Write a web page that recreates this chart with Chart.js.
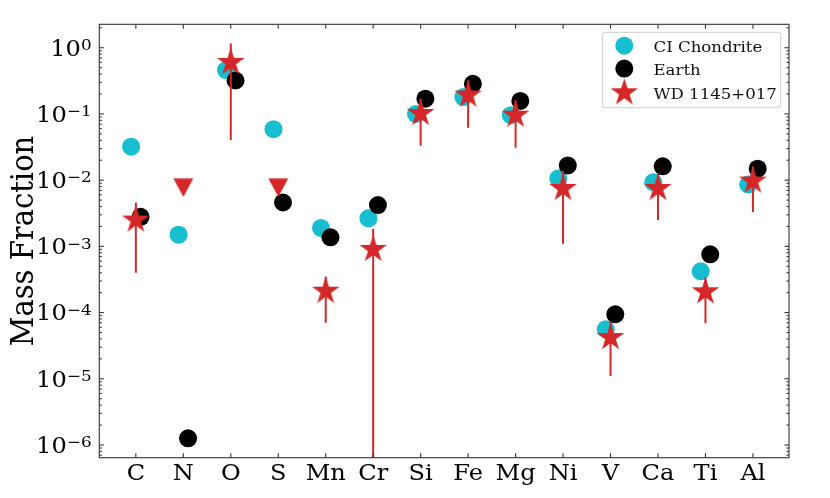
<!DOCTYPE html>
<html><head><meta charset="utf-8">
<script src="https://cdn.jsdelivr.net/npm/chart.js@4.4.0/dist/chart.umd.min.js"></script>
<style>html,body{margin:0;padding:0;background:#fff;overflow:hidden}</style>
</head><body>
<canvas id="c" width="830" height="498"></canvas>
<script>
// ---- data ----
const elements = ['C','N','O','S','Mn','Cr','Si','Fe','Mg','Ni','V','Ca','Ti','Al'];
const ciChondrite = [3.2e-2, 1.5e-3, 0.46, 5.9e-2, 1.9e-3, 2.65e-3, 0.10, 0.18, 0.096, 1.06e-2, 5.6e-5, 9.3e-3, 4.2e-4, 8.6e-3];
const earth       = [2.8e-3, 1.26e-6, 0.32, 4.6e-3, 1.37e-3, 4.2e-3, 0.17, 0.285, 0.157, 1.67e-2, 9.4e-5, 1.62e-2, 7.6e-4, 1.49e-2];
const wd1145      = [2.5e-3, null, 0.60, null, 2.1e-4, 9.0e-4, 0.102, 0.193, 0.096, 7.5e-3, 4.2e-5, 7.5e-3, 2.06e-4, 9.7e-3];
const wdError     = [2.1e-3, null, 0.56, null, 1.4e-4, 9.5e-4, 0.069, 0.131, 0.065, 6.4e-3, 3.1e-5, 5.0e-3, 1.37e-4, 6.4e-3];
const wdUpperLimit= [null, 7.7e-3, null, 7.7e-3, null, null, null, null, null, null, null, null, null, null];
const yDecades = [1e-6, 1e-5, 1e-4, 1e-3, 1e-2, 1e-1, 1e0];
const legendLabels = ['CI Chondrite', 'Earth', 'WD 1145+017'];
const yTitle = 'Mass Fraction';
const yMin = 6.43e-7, yMax = 2.26;

const FONT = "'DejaVu Serif', serif";
const RED = '#d62728', CYAN = '#17becf', BLACK = '#000000';
const OFF = 0.1;
const SX = 1.12; // horizontal text stretch

function makeStar(R, color) {
  const s = Math.ceil(R * 2 + 2);
  const c = document.createElement('canvas');
  c.width = s; c.height = s;
  const g = c.getContext('2d');
  g.fillStyle = color;
  g.beginPath();
  const cx = s / 2, cy = s / 2, r = R * 0.381966;
  for (let k = 0; k < 10; k++) {
    const a = -Math.PI / 2 + k * Math.PI / 5;
    const rr = k % 2 ? r : R;
    g.lineTo(cx + rr * Math.cos(a), cy + rr * Math.sin(a));
  }
  g.closePath(); g.fill();
  return c;
}
function makeTriDown(w, h, color) {
  const c = document.createElement('canvas');
  c.width = Math.ceil(w) + 2; c.height = Math.ceil(h) + 2;
  const g = c.getContext('2d');
  const cx = c.width / 2, cy = c.height / 2;
  g.fillStyle = color;
  g.beginPath();
  g.moveTo(cx - w / 2, cy - h / 2);
  g.lineTo(cx + w / 2, cy - h / 2);
  g.lineTo(cx, cy + h / 2);
  g.closePath(); g.fill();
  return c;
}
const starImg = makeStar(14.5, RED);
const triImg = makeTriDown(20, 18.3, RED);

function isDecade(v) { const e = Math.log10(v); return Math.abs(e - Math.round(e)) < 1e-9; }

const ciData = ciChondrite.map((v, i) => ({x: i - OFF, y: v}));
const earthData = earth.map((v, i) => ({x: i + OFF, y: v}));
const wdData = [];
wd1145.forEach((v, i) => { if (v !== null) wdData.push({x: i, y: v}); });
const ulData = [];
wdUpperLimit.forEach((v, i) => { if (v !== null) ulData.push({x: i, y: v}); });
const errData = [];
wd1145.forEach((v, i) => {
  if (v === null) return;
  errData.push({x: i, y: Math.max(v - wdError[i], 1e-9)});
  errData.push({x: i, y: v + wdError[i]});
  errData.push({x: i, y: null});
});

function sText(ctx, txt, x, y, size, align, baseline) {
  ctx.save();
  ctx.translate(x, y);
  ctx.scale(SX, 1);
  ctx.font = size + 'px ' + FONT;
  ctx.textAlign = align;
  ctx.textBaseline = baseline || 'alphabetic';
  ctx.fillText(txt, 0, 0);
  ctx.restore();
}
function sWidth(ctx, txt, size) {
  ctx.save(); ctx.font = size + 'px ' + FONT;
  const w = ctx.measureText(txt).width * SX; ctx.restore(); return w;
}

const framePlugin = {
  id: 'frame',
  afterDatasetsDraw(chart) {
    const {ctx, chartArea: a, scales: {x, y}} = chart;
    ctx.save();
    ctx.strokeStyle = '#333';
    ctx.lineWidth = 1.1;
    const line = (x1, y1, x2, y2) => { ctx.beginPath(); ctx.moveTo(x1, y1); ctx.lineTo(x2, y2); ctx.stroke(); };
    y.ticks.forEach(t => {
      const p = y.getPixelForValue(t.value);
      const L = isDecade(t.value) ? 4.5 : 2.5;
      line(a.left, p, a.left + L, p);
      line(a.right, p, a.right - L, p);
    });
    x.ticks.forEach(t => {
      const p = x.getPixelForValue(t.value);
      line(p, a.bottom, p, a.bottom - 4.5);
      line(p, a.top, p, a.top + 4.5);
    });
    ctx.strokeRect(a.left, a.top, a.right - a.left, a.bottom - a.top);

    // tick labels
    ctx.fillStyle = '#000';
    x.ticks.forEach(t => {
      const p = x.getPixelForValue(t.value);
      sText(ctx, elements[t.value], p, a.bottom + 22.3, 21.5, 'center');
    });
    const rightEdge = a.left - 7.5;
    yDecades.forEach(d => {
      const p = y.getPixelForValue(d);
      const e = Math.round(Math.log10(d));
      const supTxt = e < 0 ? '\u2212' + Math.abs(e) : String(e);
      const ws = sWidth(ctx, supTxt, 15);
      sText(ctx, supTxt, rightEdge, p + 2.2, 15, 'right');
      sText(ctx, '10', rightEdge - ws - 0.3, p + 7.8, 21.5, 'right');
    });

    // y title
    ctx.save();
    ctx.translate(33, (a.top + a.bottom) / 2);
    ctx.scale(SX, 1);
    ctx.rotate(-Math.PI / 2);
    ctx.font = '29px ' + FONT;
    ctx.textAlign = 'center';
    ctx.textBaseline = 'alphabetic';
    ctx.fillText(yTitle, 0, 0);
    ctx.restore();
    ctx.restore();
  },
  afterDraw(chart) {
    const ctx = chart.ctx;
    ctx.save();
    const bx = 602.3, by = 32.3, bw = 178.4, bh = 75.4, r = 3;
    ctx.beginPath();
    ctx.moveTo(bx + r, by);
    ctx.arcTo(bx + bw, by, bx + bw, by + bh, r);
    ctx.arcTo(bx + bw, by + bh, bx, by + bh, r);
    ctx.arcTo(bx, by + bh, bx, by, r);
    ctx.arcTo(bx, by, bx + bw, by, r);
    ctx.closePath();
    ctx.fillStyle = 'rgba(255,255,255,0.8)';
    ctx.fill();
    ctx.strokeStyle = '#cccccc';
    ctx.lineWidth = 1;
    ctx.stroke();
    const mx = 624.3;
    const rows = [45.7, 68.6, 92.8];
    const baselines = [52, 75.3, 99.3];
    ctx.fillStyle = CYAN; ctx.beginPath(); ctx.arc(mx, rows[0], 9, 0, Math.PI * 2); ctx.fill();
    ctx.fillStyle = BLACK; ctx.beginPath(); ctx.arc(mx, rows[1], 9, 0, Math.PI * 2); ctx.fill();
    ctx.drawImage(starImg, mx - starImg.width / 2, rows[2] - starImg.height / 2);
    ctx.fillStyle = '#111';
    legendLabels.forEach((t, k) => sText(ctx, t, 653.5, baselines[k], 14.8, 'left'));
    ctx.restore();
  }
};

new Chart(document.getElementById('c'), {
  type: 'scatter',
  data: {
    datasets: [
      { label: legendLabels[2], data: wdData, order: 0, pointStyle: starImg, pointRadius: 14.5, pointHoverRadius: 14.5 },
      { label: 'upper limit', data: ulData, order: 1, pointStyle: triImg, pointRadius: 10, pointHoverRadius: 10 },
      { label: 'error', data: errData, order: 2, showLine: true, spanGaps: false, pointRadius: 0, pointHoverRadius: 0,
        borderColor: RED, borderWidth: 2, backgroundColor: RED },
      { label: legendLabels[1], data: earthData, order: 3, pointRadius: 9, pointHoverRadius: 9, backgroundColor: BLACK, borderColor: BLACK, borderWidth: 0 },
      { label: legendLabels[0], data: ciData, order: 4, pointRadius: 9, pointHoverRadius: 9, backgroundColor: CYAN, borderColor: CYAN, borderWidth: 0 }
    ]
  },
  options: {
    responsive: false,
    animation: false,
    devicePixelRatio: 1,
    layout: { padding: { left: 0, top: 24.3, right: 41, bottom: 0 } },
    plugins: { legend: { display: false }, tooltip: { enabled: false } },
    events: [],
    scales: {
      x: {
        type: 'linear', min: -0.77, max: 13.76,
        grid: { display: false, drawTicks: false },
        border: { display: false },
        afterBuildTicks(s) { s.ticks = elements.map((e, i) => ({ value: i })); },
        afterFit(s) { s.height = 40.3; },
        ticks: { display: false }
      },
      y: {
        type: 'logarithmic', min: yMin, max: yMax,
        grid: { display: false, drawTicks: false },
        border: { display: false },
        afterBuildTicks(s) {
          const t = [];
          for (let e = -7; e <= 0; e++) {
            for (let m = 1; m <= 9; m++) {
              const v = m * Math.pow(10, e);
              if (v >= yMin && v <= yMax) t.push({ value: v });
            }
          }
          s.ticks = t;
        },
        afterFit(s) { s.width = 99.3; },
        ticks: { display: false }
      }
    }
  },
  plugins: [framePlugin]
});
</script>
</body></html>
